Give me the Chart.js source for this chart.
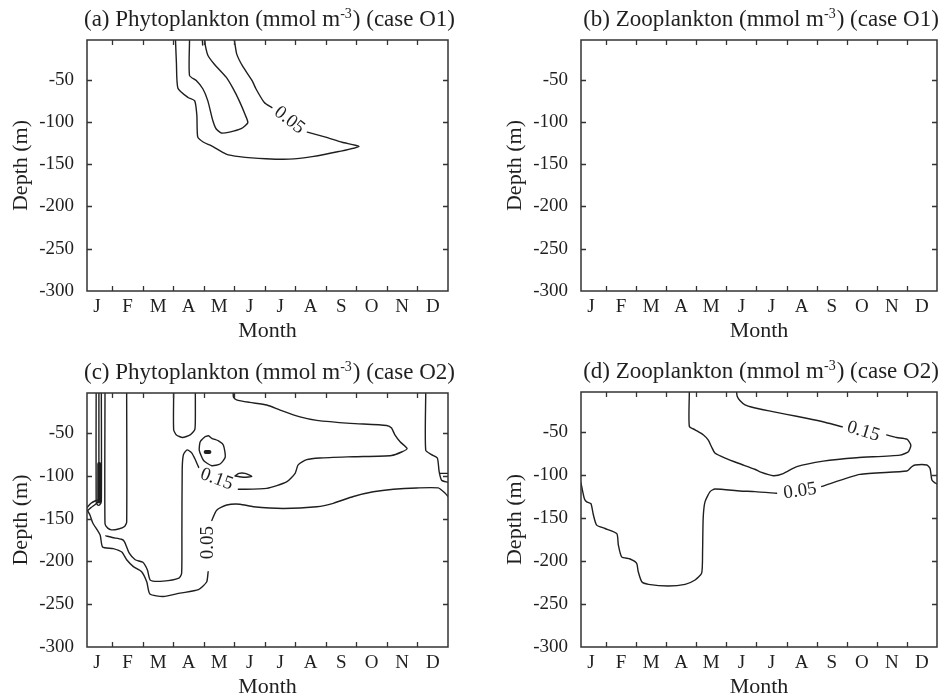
<!DOCTYPE html>
<html>
<head>
<meta charset="utf-8">
<script src="https://cdn.jsdelivr.net/npm/chart.js@4.4.1/dist/chart.umd.min.js"></script>
<style>
  html, body { margin: 0; padding: 0; background: #fff; }
  #wrap { position: relative; width: 938px; height: 697px; overflow: hidden; background: #fff; }
  #wrap canvas { position: absolute; }
</style>
</head>
<body>
<div id="wrap">
  <canvas id="pa" width="469" height="348" style="left:0;top:0"></canvas>
  <canvas id="pb" width="469" height="348" style="left:469px;top:0"></canvas>
  <canvas id="pc" width="469" height="349" style="left:0;top:348px"></canvas>
  <canvas id="pd" width="469" height="349" style="left:469px;top:348px"></canvas>
</div>
<script>
// Axis categories and ticks
const monthLabels = ['J', 'F', 'M', 'A', 'M', 'J', 'J', 'A', 'S', 'O', 'N', 'D'];
const depthTicks = [-50, -100, -150, -200, -250, -300];
const monthStart = 0.17;   // first model day, in months from 1 Jan
const monthEnd = 12;
const depthTop = -3;
const depthBottom = -300;

// Contour lines, [month, depth (m)]
// (a) phytoplankton, case O1
const phytoO1_outerA = [[3.07,-3],[3.10,-30],[3.15,-60],[3.48,-71],[3.70,-75],[3.77,-92],[3.80,-118],[3.99,-124],[4.24,-128],[4.73,-138],[5.16,-141],[6.03,-143.5],[6.79,-144],[7.55,-141],[8.42,-135],[9.08,-129],[8.53,-124],[7.99,-118],[7.39,-112]];
const phytoO1_outerB = [[6.23,-83],[5.98,-77],[5.71,-61],[5.58,-51],[5.27,-34],[5.08,-20],[5.02,-8],[5.00,-3]];
const phytoO1_inner = [[3.53,-3],[3.53,-45],[3.75,-51],[3.97,-61],[4.13,-75],[4.29,-98],[4.40,-108],[4.57,-113],[4.84,-112],[5.22,-108],[5.44,-101],[5.36,-92],[5.16,-75],[4.95,-60],[4.73,-47],[4.35,-32],[4.13,-21],[4.05,-10],[4.03,-3]];
const phytoO1_nub = [[3.95,-3],[3.96,-9]];

// (b) zooplankton, case O1: no contour reaches the plotted levels
const zooO1_lines = [];

// (c) phytoplankton, case O2
const phytoO2_stripOuter = [[0.47,-3],[0.47,-130],[0.52,-134],[0.58,-134],[0.64,-130],[0.64,-3]];
const phytoO2_stripInner = [[0.56,-3],[0.56,-127]];
const phytoO2_stripCore = [[0.57,-86],[0.57,-130]];
const phytoO2_edgeLens = [[0.17,-137],[0.30,-132],[0.45,-129],[0.62,-127],[0.45,-133],[0.30,-137],[0.17,-141]];
const phytoO2_febLoop = [[0.76,-3],[0.76,-156],[0.85,-161],[0.97,-163],[1.20,-162],[1.40,-159],[1.47,-154],[1.47,-3]];
const phytoO2_aprLoop = [[3.01,-3],[3.01,-46],[3.10,-52],[3.30,-55],[3.55,-52],[3.70,-46],[3.72,-35],[3.72,-3]];
const phytoO2_mayRing = [[4.04,-54],[3.88,-60],[3.85,-70],[3.99,-82],[4.26,-88],[4.53,-86],[4.70,-78],[4.64,-64],[4.48,-59],[4.26,-56],[4.15,-53],[4.04,-54]];
const phytoO2_mayDot = [[4.06,-72],[4.18,-72]];
const phytoO2_junLens = [[5.02,-100],[5.15,-97],[5.35,-97],[5.57,-100.5],[5.30,-101.5],[5.02,-100]];
const phytoO2_c15A = [[4.96,-3],[4.97,-8],[5.07,-11],[5.50,-14],[6.06,-17],[6.50,-23],[7.15,-31],[7.70,-35],[8.80,-38.5],[9.99,-41],[10.15,-44],[10.26,-52],[10.43,-60],[10.66,-68],[10.48,-72],[10.15,-76],[8.90,-77.5],[7.80,-79],[7.37,-81],[7.09,-87],[6.99,-97],[6.71,-107],[6.06,-114.5],[5.13,-115.6]];
const phytoO2_c15B = [[3.83,-90],[3.72,-81],[3.60,-73],[3.45,-69.5],[3.33,-75],[3.29,-92],[3.28,-165],[3.27,-214],[3.18,-219.5],[2.67,-223],[2.25,-222],[2.15,-210],[2.00,-201],[1.75,-198],[1.55,-190],[1.40,-177],[1.30,-174],[1.00,-172],[0.79,-170]];
const phytoO2_c05A = [[0.18,-140],[0.27,-146],[0.36,-155],[0.60,-169],[0.68,-183],[1.03,-185],[1.31,-189],[1.47,-198],[1.69,-206],[1.96,-212],[2.13,-224],[2.23,-238],[2.67,-241],[3.22,-237],[3.82,-233],[4.09,-224],[4.14,-212]];
const phytoO2_c05B = [[4.26,-152],[4.42,-140],[4.75,-134],[5.18,-133],[5.62,-136],[6.60,-138],[7.70,-136],[8.24,-132],[8.90,-124],[9.55,-118.5],[10.21,-115.5],[10.97,-114],[11.68,-114],[11.90,-120],[12.00,-124]];
const phytoO2_decColumn = [[11.27,-3],[11.27,-70],[11.46,-75],[11.65,-79],[11.71,-95],[11.79,-105],[12.00,-107.5]];
const phytoO2_decNub = [[11.74,-97],[12.00,-97]];

// (d) zooplankton, case O2
const zooO2_c05A = [[0.17,-109],[0.28,-127],[0.36,-131],[0.50,-133],[0.58,-146],[0.69,-158],[0.97,-162],[1.36,-168],[1.41,-181],[1.52,-195],[1.80,-197.5],[2.02,-202.5],[2.07,-212],[2.19,-224],[2.41,-227],[3.07,-229],[3.63,-227],[3.96,-222],[4.18,-214],[4.21,-189],[4.23,-150],[4.29,-131],[4.46,-119],[4.62,-116],[5.45,-118.3],[5.95,-119],[6.67,-121]];
const zooO2_c05B = [[8.17,-113],[9.44,-99],[11.00,-95],[11.16,-90],[11.27,-88],[11.66,-88],[11.77,-92],[11.83,-105.5],[11.94,-109],[12.00,-110]];
const zooO2_c15A = [[3.77,-3],[3.77,-43],[3.96,-47],[4.24,-53],[4.40,-59],[4.51,-67],[4.62,-74],[4.96,-80],[5.40,-86],[5.95,-93],[6.12,-96],[6.56,-100.5],[6.89,-98],[7.34,-90],[8.22,-83.5],[9.33,-79.5],[10.77,-76.5],[11.05,-72.5],[11.13,-65],[11.00,-58],[10.66,-56],[10.33,-53]];
const zooO2_c15B = [[8.85,-43.5],[8.30,-38.5],[7.66,-33.6],[7.00,-29],[6.50,-25.5],[5.89,-21],[5.62,-18],[5.45,-13],[5.36,-8],[5.34,-3]];

// Contour level labels: [text, month, depth]
const phytoO1_levels = [['0.05', 6.80, -98]];
const phytoO2_levels = [['0.15', 4.42, -104], ['0.05', 4.13, -178]];
const zooO2_levels = [['0.15', 9.55, -49], ['0.05', 7.45, -118.5]];

// ---- drawing ----
const serif = "'Liberation Serif', 'Times New Roman', Times, serif";
const ink = '#1f1f1f';
Chart.defaults.font.family = serif;
Chart.defaults.color = ink;

function lineSet(points, width) {
  return {
    data: points.map(([x, y]) => ({ x, y })),
    showLine: true,
    borderColor: ink,
    borderWidth: width || 1.4,
    borderCapStyle: 'round',
    borderJoinStyle: 'round',
    pointRadius: 0,
    tension: 0.2,
    fill: false
  };
}

const panelDecor = {
  id: 'panelDecor',
  afterDraw(chart, args, opts) {
    const { ctx, chartArea: a, scales } = chart;
    const xs = scales.x, ys = scales.y;
    ctx.save();
    // frame
    ctx.strokeStyle = '#333';
    ctx.lineWidth = 1.5;
    ctx.strokeRect(a.left, a.top, a.right - a.left, a.bottom - a.top);
    // inward tick marks
    ctx.lineWidth = 1.3;
    ctx.beginPath();
    const tl = 5;
    for (let m = 1; m < monthEnd; m++) {
      const x = Math.round(xs.getPixelForValue(m)) + 0.5;
      ctx.moveTo(x, a.bottom); ctx.lineTo(x, a.bottom - tl);
      ctx.moveTo(x, a.top); ctx.lineTo(x, a.top + tl);
    }
    depthTicks.forEach(v => {
      if (v <= depthBottom || v >= depthTop) return;
      const y = Math.round(ys.getPixelForValue(v)) + 0.5;
      ctx.moveTo(a.left, y); ctx.lineTo(a.left + tl, y);
      ctx.moveTo(a.right, y); ctx.lineTo(a.right - tl, y);
    });
    ctx.stroke();

    ctx.fillStyle = ink;
    // title with superscript unit
    const tf = '23px ' + serif, sf = '14px ' + serif;
    const p1 = opts.tag + ' ' + opts.group + ' (mmol m';
    const sup = '-3';
    const p2 = ') (' + opts.caseName + ')';
    ctx.font = tf; const w1 = ctx.measureText(p1).width, w3 = ctx.measureText(p2).width;
    ctx.font = sf; const w2 = ctx.measureText(sup).width + 1;
    const cx = (a.left + a.right) / 2 + 2;
    let tx = cx - (w1 + w2 + w3) / 2;
    const ty = a.top - 14;
    ctx.textAlign = 'left';
    ctx.textBaseline = 'alphabetic';
    ctx.font = tf; ctx.fillText(p1, tx, ty); tx += w1;
    ctx.font = sf; ctx.fillText(sup, tx, ty - 8); tx += w2;
    ctx.font = tf; ctx.fillText(p2, tx, ty);

    // axis titles
    ctx.font = '22px ' + serif;
    ctx.textAlign = 'center';
    ctx.textBaseline = 'middle';
    ctx.fillText('Month', (a.left + a.right) / 2, a.bottom + 40);
    ctx.save();
    ctx.translate(a.left - 66, (a.top + a.bottom) / 2);
    ctx.rotate(-Math.PI / 2);
    ctx.fillText('Depth (m)', 0, 0);
    ctx.restore();

    // contour level labels
    ctx.font = '19px ' + serif;
    (opts.levels || []).forEach(([text, m, d], i) => {
      const ang = (opts.angles || [])[i] || 0;
      ctx.save();
      ctx.translate(xs.getPixelForValue(m), ys.getPixelForValue(d));
      ctx.rotate(ang * Math.PI / 180);
      ctx.fillText(text, 0, 0);
      ctx.restore();
    });
    ctx.restore();
  }
};

// box: [left, top, right, bottom] of the plotting area inside the canvas
function makePanel(canvasId, box, decor, lines) {
  const cv = document.getElementById(canvasId);
  const [bl, bt, br, bb] = box;
  new Chart(cv, {
    type: 'scatter',
    data: { datasets: lines },
    plugins: [panelDecor],
    options: {
      responsive: false,
      animation: false,
      events: [],
      layout: { padding: { left: 0, top: bt, right: cv.width - br, bottom: 0 } },
      plugins: { legend: { display: false }, tooltip: { enabled: false }, panelDecor: decor },
      scales: {
        x: {
          type: 'linear', min: monthStart, max: monthEnd,
          grid: { display: false }, border: { display: false },
          afterBuildTicks: s => { s.ticks = monthLabels.map((_, i) => ({ value: i + 0.5 })); },
          afterFit: s => { s.height = cv.height - bb; },
          ticks: { autoSkip: false, maxRotation: 0, padding: -3, font: { size: 19 }, color: ink,
                   callback: (v, i) => monthLabels[i] }
        },
        y: {
          type: 'linear', min: depthBottom, max: depthTop,
          grid: { display: false }, border: { display: false },
          afterBuildTicks: s => { s.ticks = depthTicks.map(v => ({ value: v })); },
          afterFit: s => { s.width = bl; },
          ticks: { autoSkip: false, padding: 5, font: { size: 19 }, color: ink,
                   callback: v => String(v) }
        }
      }
    }
  });
}

makePanel('pa', [87, 40, 448, 291],
  { tag: '(a)', group: 'Phytoplankton', caseName: 'case O1', levels: phytoO1_levels, angles: [38] },
  [lineSet(phytoO1_outerA), lineSet(phytoO1_outerB), lineSet(phytoO1_inner), lineSet(phytoO1_nub)]);

makePanel('pb', [112, 40, 468, 291],
  { tag: '(b)', group: 'Zooplankton', caseName: 'case O1', levels: [], angles: [] },
  zooO1_lines.map(l => lineSet(l)));

makePanel('pc', [87, 45, 448, 299],
  { tag: '(c)', group: 'Phytoplankton', caseName: 'case O2', levels: phytoO2_levels, angles: [20, -90] },
  [lineSet(phytoO2_stripOuter), lineSet(phytoO2_stripInner), lineSet(phytoO2_stripCore, 4),
   lineSet(phytoO2_edgeLens), lineSet(phytoO2_febLoop), lineSet(phytoO2_aprLoop),
   lineSet(phytoO2_mayRing), lineSet(phytoO2_mayDot, 4), lineSet(phytoO2_junLens),
   lineSet(phytoO2_c15A), lineSet(phytoO2_c15B), lineSet(phytoO2_c05A), lineSet(phytoO2_c05B),
   lineSet(phytoO2_decColumn), lineSet(phytoO2_decNub)]);

makePanel('pd', [112, 44, 468, 299],
  { tag: '(d)', group: 'Zooplankton', caseName: 'case O2', levels: zooO2_levels, angles: [17, -8] },
  [lineSet(zooO2_c05A), lineSet(zooO2_c05B), lineSet(zooO2_c15A), lineSet(zooO2_c15B)]);
</script>
</body>
</html>
